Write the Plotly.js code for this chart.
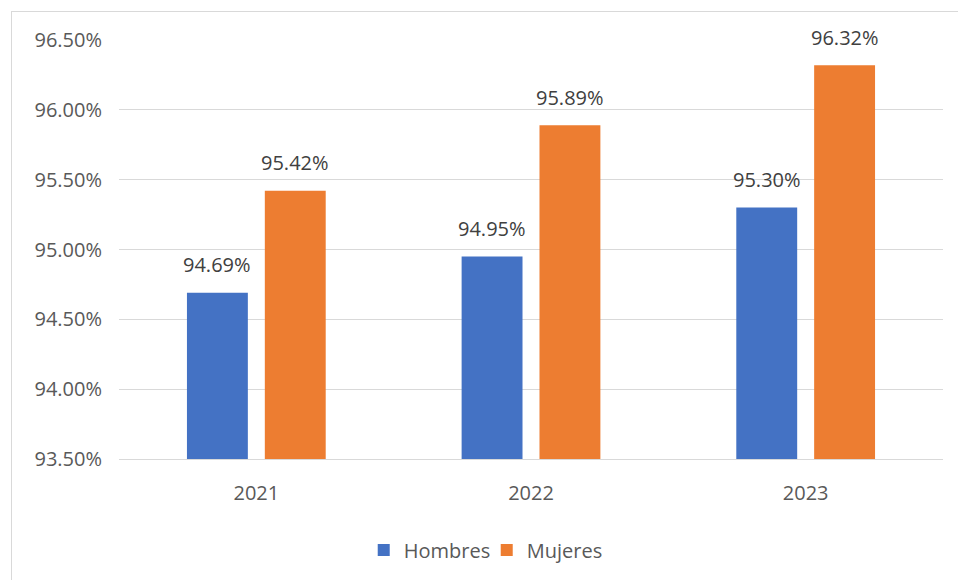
<!DOCTYPE html>
<html>
<head>
<meta charset="utf-8">
<script src="https://cdn.plot.ly/plotly-3.0.1.min.js"></script>
<style>
  html, body { margin: 0; padding: 0; background: #fff; overflow: hidden; }
  #frame { position: absolute; left: 11px; top: 11px; width: 960px; height: 580px;
           border-left: 1px solid #d9d9d9; border-top: 1px solid #d9d9d9; }
  #chart { position: absolute; left: 0; top: 0; width: 958px; height: 580px; }
</style>
</head>
<body>
<div id="frame"></div>
<div id="chart"></div>
<script>
'use strict';

// Tasa por sexo y año
const years = ['2021', '2022', '2023'];
const hombres = [0.9469, 0.9495, 0.9530];
const mujeres = [0.9542, 0.9589, 0.9632];
const seriesNames = ['Hombres', 'Mujeres'];
const seriesColors = ['#4472C4', '#ED7D31'];

const FONT = '"Open Sans", "Noto Sans", sans-serif';
const W = 958, H = 580, M = { l: 119, r: 15, t: 40, b: 120 };
const BARGAP = 0.433;

const pct = v => (v * 100).toFixed(2) + '%';

const traces = [hombres, mujeres].map((vals, i) => ({
    x: years, y: vals, type: 'bar', name: seriesNames[i],
    marker: { color: seriesColors[i] }, hoverinfo: 'skip'
}));

// data labels: placed above each bar, offset to the bar's slot within the group
const catW = (W - M.l - M.r) / years.length;
const slot = catW * (1 - BARGAP) / 2;
const annotations = [];
[hombres, mujeres].forEach((vals, i) => {
    vals.forEach((v, j) => annotations.push({
        x: j, y: v, xref: 'x', yref: 'y', text: pct(v), showarrow: false,
        xshift: (i === 0 ? -1 : 1) * slot / 2, yshift: 28, yanchor: 'middle',
        font: { family: FONT, size: 20, color: '#404040' }
    }));
});

const layout = {
    width: W, height: H, margin: M,
    paper_bgcolor: 'rgba(0,0,0,0)', plot_bgcolor: 'rgba(0,0,0,0)',
    font: { family: FONT, size: 20, color: '#595959' },
    barmode: 'group', bargap: BARGAP, bargroupgap: 0.218,
    showlegend: true,
    legend: { orientation: 'h', x: 0.297, xanchor: 'left', y: -0.214, yanchor: 'middle',
              entrywidth: 78, entrywidthmode: 'pixels',
              font: { family: FONT, size: 20, color: '#595959' } },
    xaxis: { type: 'category', range: [-0.5, 2.5], showgrid: false, showline: true,
             linecolor: '#d9d9d9', linewidth: 1,
             ticks: 'outside', ticklen: 16, tickcolor: 'rgba(0,0,0,0)',
             tickfont: { size: 20, color: '#595959' } },
    yaxis: { range: [0.935, 0.965], dtick: 0.005, tick0: 0.935, tickformat: '.2%',
             showgrid: true, gridcolor: '#d9d9d9', gridwidth: 1, zeroline: false,
             showline: false, ticks: 'outside', ticklen: 12, tickcolor: 'rgba(0,0,0,0)',
             tickfont: { size: 20, color: '#595959' } },
    annotations
};

Plotly.newPlot('chart', traces, layout, { displayModeBar: false, staticPlot: true });
</script>
</body>
</html>
